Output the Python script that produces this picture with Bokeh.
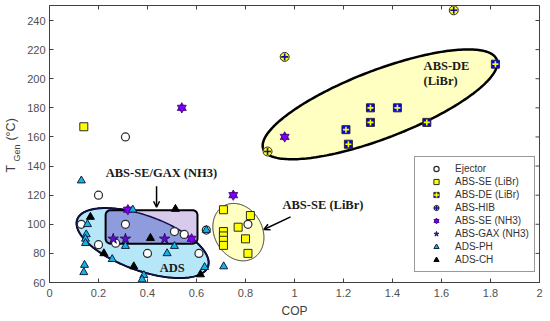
import numpy as np
from bokeh.plotting import figure
from bokeh.models import (Range1d, FixedTicker, Legend, LegendItem, Label, Arrow, OpenHead)
from bokeh.embed import file_html
from bokeh.resources import INLINE

# ---------------- data ----------------
ejector_cop = [0.31, 0.20, 0.13, 0.31, 0.20, 0.27, 0.51, 0.55, 0.64, 0.40, 0.61, 0.81]
ejector_t   = [160, 120, 100, 100, 86, 87, 95, 93, 96, 80, 80, 100]

abs_se_libr_cop = [0.14, 0.71, 0.82, 0.77, 0.71, 0.71, 0.71, 0.71, 0.80, 0.81]
abs_se_libr_t   = [167, 110, 106, 98, 95, 92, 89, 85.5, 90, 80]

abs_de_libr_cop = [1.82, 1.31, 1.42, 1.31, 1.21, 1.22, 1.54]
abs_de_libr_t   = [210, 180, 180, 170, 165, 155, 170]

abs_hib_cop = [0.96, 0.89, 1.65]
abs_hib_t   = [215, 150, 247]

abs_se_nh3_cop = [0.54, 0.96, 0.75, 0.32, 0.58]
abs_se_nh3_t   = [180, 160, 120, 110, 90]

abs_gax_nh3_cop = [0.26, 0.31, 0.47]
abs_gax_nh3_t   = [90, 90, 90]

ads_ph_cop = [0.13, 0.34, 0.155, 0.15, 0.147, 0.147, 0.31, 0.51, 0.48, 0.256,
              0.64, 0.143, 0.14, 0.385, 0.378, 0.633, 0.711]
ads_ph_t   = [130, 110, 100, 93, 90, 87, 85, 85, 80, 76,
              96, 72, 67, 65, 62, 70.5, 71]

ads_ch_cop = [0.167, 0.514, 0.412, 0.222, 0.344, 0.616]
ads_ch_t   = [105, 110.5, 90.5, 80, 71, 65.5]

x_ticks = [0.0, 0.2, 0.4, 0.6, 0.8, 1.0, 1.2, 1.4, 1.6, 1.8, 2.0]
x_tick_labels = ["0", "0.2", "0.4", "0.6", "0.8", "1", "1.2", "1.4", "1.6", "1.8", "2"]
y_ticks = [60.0, 80.0, 100.0, 120.0, 140.0, 160.0, 180.0, 200.0, 220.0, 240.0]
y_tick_labels = ["60", "80", "100", "120", "140", "160", "180", "200", "220", "240"]

# ---------------- geometry helpers ----------------
W, H = 550, 321
FL, FT, FR, FB = 49, 5, 539, 282          # frame edges on the page (px)
FW, FH = FR - FL, FB - FT
X0, X1 = 0.0, 2.0
Y0 = 60.0
SX = FW / (X1 - X0)
SY = (FB - 20) / (240.0 - Y0)             # 240 tick sits 20px from the top
Y1 = Y0 + FH / SY


def X(px):
    return X0 + (px - FL) / SX


def Y(py):
    return Y1 - (py - FT) / SY


def ellipse_poly(cx, cy, a_px, b_px, ang_deg, n=240):
    t = np.linspace(0, 2 * np.pi, n, endpoint=False)
    th = np.radians(ang_deg)
    ex, ey = a_px * np.cos(t), b_px * np.sin(t)
    dx = ex * np.cos(th) - ey * np.sin(th)
    dy = ex * np.sin(th) + ey * np.cos(th)
    return list(cx + dx / SX), list(cy + dy / SY)


def rrect_poly(x0, x1, y0, y1, r_px, n=10):
    xs, ys = [], []
    corners = [(x1 - r_px / SX, y1 - r_px / SY, 0), (x0 + r_px / SX, y1 - r_px / SY, 90),
               (x0 + r_px / SX, y0 + r_px / SY, 180), (x1 - r_px / SX, y0 + r_px / SY, 270)]
    for cx, cy, a0 in corners:
        for a in np.radians(np.linspace(a0, a0 + 90, n)):
            xs.append(cx + r_px * np.cos(a) / SX)
            ys.append(cy + r_px * np.sin(a) / SY)
    return xs, ys


def clip_convex(sx, sy, cx, cy):
    subj = [(a * SX, b * SY) for a, b in zip(sx, sy)]
    clip = [(a * SX, b * SY) for a, b in zip(cx, cy)]
    out = subj
    for i in range(len(clip)):
        A, B = clip[i], clip[(i + 1) % len(clip)]
        inp, out = out, []
        if not inp:
            break

        def inside(P):
            return (B[0] - A[0]) * (P[1] - A[1]) - (B[1] - A[1]) * (P[0] - A[0]) >= 0

        def inter(P, Q):
            x1, y1 = P; x2, y2 = Q; x3, y3 = A; x4, y4 = B
            den = (x1 - x2) * (y3 - y4) - (y1 - y2) * (x3 - x4)
            t = ((x1 - x3) * (y3 - y4) - (y1 - y3) * (x3 - x4)) / den
            return (x1 + t * (x2 - x1), y1 + t * (y2 - y1))

        S = inp[-1]
        for E in inp:
            if inside(E):
                if not inside(S):
                    out.append(inter(S, E))
                out.append(E)
            elif inside(S):
                out.append(inter(S, E))
            S = E
    return [q[0] / SX for q in out], [q[1] / SY for q in out]


# ---------------- figure ----------------
p = figure(width=W, height=H, output_backend="svg", toolbar_location=None,
           x_range=Range1d(X0, X1), y_range=Range1d(Y0, Y1),
           min_border_left=FL, min_border_right=W - FR, min_border_top=FT,
           min_border_bottom=H - FB)
p.grid.visible = False
p.outline_line_color = "#404040"
p.background_fill_color = "white"
p.border_fill_color = "white"

AX_COL = "#404040"
for ax in [p.xaxis[0], p.yaxis[0]]:
    ax.axis_line_color = AX_COL
    ax.major_tick_line_color = AX_COL
    ax.major_tick_in = 4
    ax.major_tick_out = 0
    ax.minor_tick_line_color = None
    ax.major_label_text_font = "Liberation Sans"
    ax.major_label_text_font_size = "11px"
    ax.major_label_text_color = "#505050"
p.xaxis.ticker = FixedTicker(ticks=x_ticks)
p.xaxis.major_label_overrides = dict(zip(x_ticks, x_tick_labels))
p.yaxis.ticker = FixedTicker(ticks=y_ticks)
p.yaxis.major_label_overrides = dict(zip(y_ticks, y_tick_labels))
p.xaxis.major_label_standoff = 6
p.yaxis.major_label_standoff = 4
p.xaxis.axis_label = "COP"
p.xaxis.axis_label_text_font = "Liberation Sans"
p.xaxis.axis_label_text_font_style = "normal"
p.xaxis.axis_label_text_font_size = "12px"
p.xaxis.axis_label_text_color = "#404040"
p.xaxis.axis_label_standoff = 4

# inward ticks on the top and right frame edges
p.segment(x0=x_ticks, y0=[Y1] * len(x_ticks), x1=x_ticks, y1=[Y1 - 4 / SY] * len(x_ticks),
          line_color=AX_COL, line_width=1)
p.segment(x0=[X1] * len(y_ticks), y0=y_ticks, x1=[X1 - 4 / SX] * len(y_ticks), y1=y_ticks,
          line_color=AX_COL, line_width=1)

# ---------------- shaded regions ----------------
# ABS-DE (LiBr) region
ex, ey = ellipse_poly(1.349, 182.4, 125, 34, 21)
p.patch(ex, ey, fill_color="#FFFFC2", line_color="black", line_width=2.5)
# ABS-SE (LiBr) region
ex, ey = ellipse_poly(0.771, 94.6, 30, 24, -61)
p.patch(ex, ey, fill_color="#FFFFC2", line_color="#333333", line_width=1)
# ADS region
ads_x, ads_y = ellipse_poly(0.380, 87.1, 69.5, 27.5, -19.8)
p.patch(ads_x, ads_y, fill_color="#B5E7F8", line_color="black", line_width=2)
# ABS-SE/GAX (NH3) box
bx, by = rrect_poly(0.229, 0.604, 86.7, 109.7, 5)
p.patch(bx, by, fill_color="#D8CAEA", line_color=None)
ix, iy = clip_convex(ads_x, ads_y, bx, by)
p.patch(ix, iy, fill_color="#8E9BDC", line_color=None)
p.patch(ads_x, ads_y, fill_color=None, line_color="#10104a", line_width=1.5)
p.patch(bx, by, fill_color=None, line_color="black", line_width=2)

# ---------------- region labels and arrows ----------------
def region_label(x, y, text, align="left"):
    p.add_layout(Label(x=x, y=y, text=text, text_font="Liberation Serif",
                       text_font_style="bold", text_font_size="12.5px",
                       text_color="#1a1a1a", text_align=align, text_baseline="middle"))


region_label(1.527, 208.4, "ABS-DE")
region_label(1.527, 198.2, "(LiBr)")
region_label(0.951, 113.1, "ABS-SE (LiBr)")
region_label(0.457, 135.1, "ABS-SE/GAX (NH3)", "center")
region_label(0.501, 69.9, "ADS", "center")

p.add_layout(Arrow(end=OpenHead(size=6, line_width=1.5, line_color="black"),
                   x_start=0.437, y_start=126.1, x_end=0.437, y_end=111.7,
                   line_width=1.5, line_color="black"))
p.add_layout(Arrow(end=OpenHead(size=6, line_width=1.5, line_color="black"),
                   x_start=0.984, y_start=105.1, x_end=0.875, y_end=96.4,
                   line_width=1.5, line_color="black"))

# ---------------- y-axis title T_Gen (°C), placed in the left border ----------------
NB = "\u00a0"
p.add_layout(Label(x=X(10), y=Y(172), text="T" + NB * 7 + "(°C)", angle=np.pi / 2,
                   text_font="Liberation Sans", text_font_size="12.5px", text_color="#404040",
                   text_align="left", text_baseline="middle"), "left")
p.add_layout(Label(x=X(16), y=Y(161), text="Gen", angle=np.pi / 2,
                   text_font="Liberation Sans", text_font_size="9px", text_color="#404040",
                   text_align="left", text_baseline="middle"), "left")

# ---------------- data series ----------------
OUT = "#2a2a2a"
r_ej = p.scatter(ejector_cop, ejector_t, marker="circle", size=8, fill_color="white",
                 line_color=OUT, line_width=1.2)
r_se = p.scatter(abs_se_libr_cop, abs_se_libr_t, marker="square", size=8, fill_color="#FFFF00",
                 line_color=OUT, line_width=1)
r_de1 = p.scatter(abs_de_libr_cop, abs_de_libr_t, marker="square", size=8, fill_color="#0000FF",
                  line_color=OUT, line_width=1)
r_de2 = p.scatter(abs_de_libr_cop, abs_de_libr_t, marker="cross", size=6, line_color="#FFFF00",
                  line_width=1.6)
r_hib1 = p.scatter(abs_hib_cop, abs_hib_t, marker="circle", size=9, fill_color="#FFFF00",
                   line_color=OUT, line_width=1)
r_hib2 = p.scatter(abs_hib_cop, abs_hib_t, marker="cross", size=7, line_color="#1010A0",
                   line_width=1.6)
r_nh1 = p.scatter(abs_se_nh3_cop, abs_se_nh3_t, marker="triangle", size=9, fill_color="#8000FF",
                  line_color="#3a0070", line_width=0.8)
r_nh2 = p.scatter(abs_se_nh3_cop, abs_se_nh3_t, marker="inverted_triangle", size=9,
                  fill_color="#8000FF", line_color="#3a0070", line_width=0.8)
r_gax = p.scatter(abs_gax_nh3_cop, abs_gax_nh3_t, marker="star", size=11, fill_color="#5a10c8",
                  line_color="#1a0050", line_width=0.8)
r_ph = p.scatter(ads_ph_cop, ads_ph_t, marker="triangle", size=8, fill_color="#10B4E8",
                 line_color="#10203a", line_width=1)
r_ch = p.scatter(ads_ch_cop, ads_ch_t, marker="triangle", size=8, fill_color="black",
                 line_color="black", line_width=1)

legend = Legend(items=[
    LegendItem(label="Ejector", renderers=[r_ej]),
    LegendItem(label="ABS-SE (LiBr)", renderers=[r_se]),
    LegendItem(label="ABS-DE (LiBr)", renderers=[r_de1, r_de2]),
    LegendItem(label="ABS-HIB", renderers=[r_hib1, r_hib2]),
    LegendItem(label="ABS-SE (NH3)", renderers=[r_nh1, r_nh2]),
    LegendItem(label="ABS-GAX (NH3)", renderers=[r_gax]),
    LegendItem(label="ADS-PH", renderers=[r_ph]),
    LegendItem(label="ADS-CH", renderers=[r_ch]),
], location=(365, 10))
legend.label_text_font = "Liberation Sans"
legend.label_text_font_size = "10px"
legend.label_text_color = "#333333"
legend.label_height = 13
legend.glyph_height = 13
legend.glyph_width = 32
legend.label_standoff = 3
legend.spacing = 0
legend.padding = 5
legend.margin = 0
legend.border_line_color = "#333333"
legend.border_line_width = 1
legend.background_fill_color = "white"
legend.background_fill_alpha = 1
p.add_layout(legend)

open("out.html", "w").write(file_html(p, INLINE))
